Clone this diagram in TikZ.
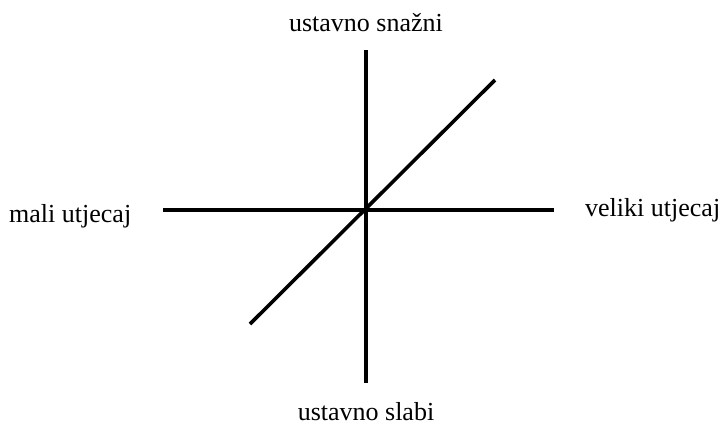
\documentclass[tikz,border=0pt]{standalone}
\usepackage{fontspec}
\setmainfont{Liberation Serif}
\begin{document}
\begin{tikzpicture}[x=1pt,y=-1pt,
  axis/.style={line width=3.6pt},
  lbl/.style={font=\fontsize{26}{30}\selectfont, inner sep=0pt, anchor=base}]
\useasboundingbox (0,0) rectangle (724,426);
\coordinate (top) at (366,50);
\coordinate (bot) at (366,383);
\coordinate (left) at (163,210);
\coordinate (right) at (554,210);
\coordinate (dl) at (250,324);
\coordinate (ur) at (495,80);
\draw[axis] (top) -- (bot);
\draw[axis] (left) -- (right);
\draw[axis] (dl) -- (ur);
\node[lbl] (n) at (366,31) {ustavno snažni};
\node[lbl] (s) at (366,420) {ustavno slabi};
\node[lbl, anchor=base west] (w) at (9,222) {mali utjecaj};
\node[lbl, anchor=base west] (e) at (585,216) {veliki utjecaj};
\end{tikzpicture}
\end{document}
